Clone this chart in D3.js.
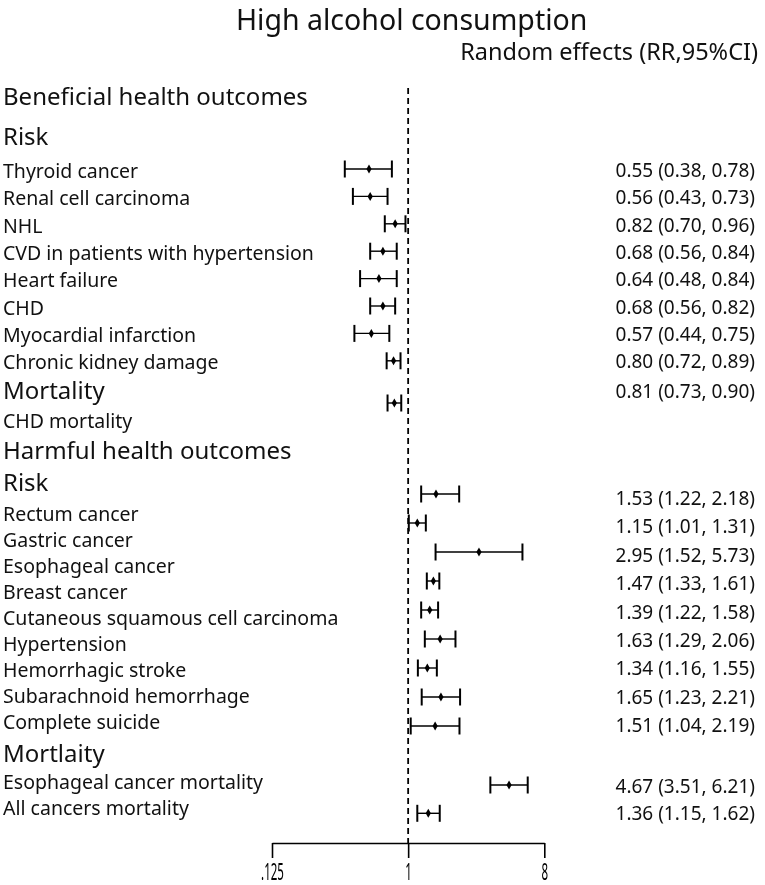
<!DOCTYPE html>
<html>
<head>
<meta charset="utf-8">
<script src="https://cdn.jsdelivr.net/npm/d3@7"></script>
<style>
  html, body { margin: 0; padding: 0; background: #fff; }
  svg { display: block; font-family: "Noto Sans", sans-serif; will-change: transform; -webkit-font-smoothing: antialiased; }
</style>
</head>
<body>
<div id="chart"></div>
<script>
// ---- data ----
const sectionNames = ['Beneficial health outcomes', 'Harmful health outcomes'];
const blockNames = ['Risk', 'Mortality', 'Risk', 'Mortlaity'];

const outcomeNames = [
  'Thyroid cancer', 'Renal cell carcinoma', 'NHL', 'CVD in patients with hypertension',
  'Heart failure', 'CHD', 'Myocardial infarction', 'Chronic kidney damage',
  'CHD mortality',
  'Rectum cancer', 'Gastric cancer', 'Esophageal cancer', 'Breast cancer',
  'Cutaneous squamous cell carcinoma', 'Hypertension', 'Hemorrhagic stroke',
  'Subarachnoid hemorrhage', 'Complete suicide',
  'Esophageal cancer mortality', 'All cancers mortality'
];
const outcomeBlock = [0, 0, 0, 0, 0, 0, 0, 0, 1, 2, 2, 2, 2, 2, 2, 2, 2, 2, 3, 3];
const rr    = [0.55, 0.56, 0.82, 0.68, 0.64, 0.68, 0.57, 0.80, 0.81, 1.53, 1.15, 2.95, 1.47, 1.39, 1.63, 1.34, 1.65, 1.51, 4.67, 1.36];
const lower = [0.38, 0.43, 0.70, 0.56, 0.48, 0.56, 0.44, 0.72, 0.73, 1.22, 1.01, 1.52, 1.33, 1.22, 1.29, 1.16, 1.23, 1.04, 3.51, 1.15];
const upper = [0.78, 0.73, 0.96, 0.84, 0.84, 0.82, 0.75, 0.89, 0.90, 2.18, 1.31, 5.73, 1.61, 1.58, 2.06, 1.55, 2.21, 2.19, 6.21, 1.62];

const xTicks = [0.125, 1, 8];
const xTickLabels = ['.125', '1', '8'];

// ---- layout (rows of the left labels, the CI bars and the right text drift apart in the original) ----
const W = 765, H = 885;
const sectionY = [105, 459];
const blockLayout = [
  { head: 145, lab0: 178, labStep: 27.3, ci0: 169, ciStep: 27.4, val0: 177, valStep: 27.3 },
  { head: 399, lab0: 428, labStep: 26,   ci0: 403, ciStep: 28,   val0: 398, valStep: 27 },
  { head: 491, lab0: 521, labStep: 26,   ci0: 494, ciStep: 29,   val0: 505, valStep: 28.4 },
  { head: 762, lab0: 789, labStep: 26,   ci0: 785, ciStep: 28.3, val0: 793, valStep: 27 }
];
const axisY = 843;
const capH = 8.5;

const fmt = d3.format('.2f');

const rows = outcomeNames.map((name, i) => {
  const b = outcomeBlock[i];
  const k = outcomeBlock.slice(0, i).filter(v => v === b).length;
  const L = blockLayout[b];
  return {
    name, rr: rr[i], lo: lower[i], hi: upper[i],
    labY: L.lab0 + k * L.labStep,
    ciY: L.ci0 + k * L.ciStep,
    valY: L.val0 + k * L.valStep
  };
});

const x = d3.scaleLog().base(2).domain([0.125, 8]).range([272, 544.3]);

const svg = d3.select('#chart').append('svg')
  .attr('width', W).attr('height', H)
  .attr('viewBox', `0 0 ${W} ${H}`);

svg.append('rect').attr('width', W).attr('height', H).attr('fill', '#fff');

// titles
svg.append('text')
  .attr('x', 236).attr('y', 30)
  .attr('font-size', 28.5).attr('fill', '#111')
  .text('High alcohol consumption');

svg.append('text')
  .attr('x', 758).attr('y', 60)
  .attr('text-anchor', 'end')
  .attr('font-size', 23.5).attr('fill', '#111')
  .text('Random effects (RR,95%CI)');

// headings
svg.selectAll('.sec')
  .data(sectionNames)
  .join('text')
  .attr('class', 'sec')
  .attr('x', 3).attr('y', (d, i) => sectionY[i])
  .attr('font-size', 24).attr('fill', '#111')
  .text(d => d);

svg.selectAll('.blk')
  .data(blockNames)
  .join('text')
  .attr('class', 'blk')
  .attr('x', 3).attr('y', (d, i) => blockLayout[i].head)
  .attr('font-size', 24).attr('fill', '#111')
  .text(d => d);

// outcome labels
svg.selectAll('.lab')
  .data(rows)
  .join('text')
  .attr('class', 'lab')
  .attr('x', 3).attr('y', d => d.labY)
  .attr('font-size', 19.5).attr('fill', '#111')
  .text(d => d.name);

// RR text
svg.selectAll('.val')
  .data(rows)
  .join('text')
  .attr('class', 'val')
  .attr('x', 755).attr('y', d => d.valY)
  .attr('text-anchor', 'end')
  .attr('font-size', 19).attr('fill', '#111')
  .text(d => `${fmt(d.rr)} (${fmt(d.lo)}, ${fmt(d.hi)})`);

// reference line at RR = 1
svg.append('line')
  .attr('x1', x(1)).attr('x2', x(1))
  .attr('y1', 88).attr('y2', axisY)
  .attr('stroke', '#000').attr('stroke-width', 1.8)
  .attr('stroke-dasharray', '6,4');

// CI bars
const ci = svg.append('g').selectAll('g')
  .data(rows)
  .join('g')
  .attr('transform', d => `translate(0,${d.ciY})`);

ci.append('line')
  .attr('x1', d => x(d.lo)).attr('x2', d => x(d.hi))
  .attr('stroke', '#000').attr('stroke-width', 1.4);

ci.selectAll('.cap')
  .data(d => [d.lo, d.hi])
  .join('line')
  .attr('class', 'cap')
  .attr('x1', v => x(v)).attr('x2', v => x(v))
  .attr('y1', -capH).attr('y2', capH)
  .attr('stroke', '#000').attr('stroke-width', 2);

ci.append('path')
  .attr('transform', d => `translate(${x(d.rr)},0)`)
  .attr('d', 'M0,-4.5L2.6,0L0,4.5L-2.6,0Z')
  .attr('fill', '#000');

// x axis
const axis = svg.append('g')
  .attr('transform', `translate(0,${axisY})`)
  .call(d3.axisBottom(x)
    .tickValues(xTicks)
    .tickFormat((d, i) => xTickLabels[i])
    .tickSize(15)
    .tickSizeOuter(0));

axis.select('.domain').attr('stroke', '#000').attr('stroke-width', 1.6);
axis.selectAll('.tick line').attr('stroke', '#000').attr('stroke-width', 1.6);
axis.selectAll('.tick text')
  .attr('y', 37).attr('dy', 0)
  .attr('font-family', '"Noto Sans", sans-serif')
  .attr('font-size', 23)
  .attr('fill', '#000')
  .attr('transform', 'scale(0.5,1)');
</script>
</body>
</html>
